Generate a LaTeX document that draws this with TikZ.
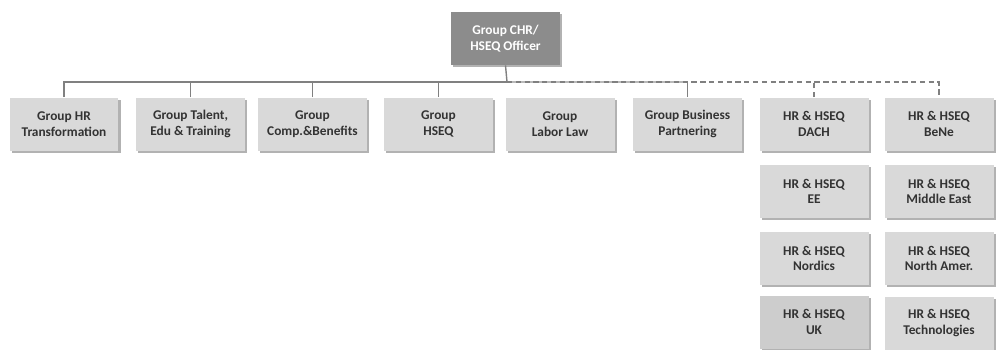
\documentclass[tikz,border=0pt]{standalone}
\usepackage{fontspec}
\setmainfont{Carlito}
\usetikzlibrary{positioning,shadows}

\definecolor{boxgray}{HTML}{D9D9D9}
\definecolor{ukgray}{HTML}{CDCDCD}
\definecolor{topgray}{HTML}{8C8C8C}
\definecolor{txtgray}{HTML}{333333}
\definecolor{linegray}{HTML}{808080}

\tikzset{
  unit/.style={draw=none,fill=boxgray,minimum width=2.18cm,minimum height=1.06cm,
    align=center,inner sep=1pt,text=txtgray,font=\bfseries\fontsize{7.6}{8.8}\selectfont,
    drop shadow={shadow xshift=1.4pt,shadow yshift=-1.4pt,fill=gray!75,opacity=0.8}},
  head/.style={unit,fill=topgray,text=white},
  conn/.style={draw=linegray,line width=0.8pt},
  dotconn/.style={draw=linegray,line width=0.8pt,dash pattern=on 3pt off 2pt}
}

\begin{document}
\begin{tikzpicture}[x=0.02cm,y=-0.02cm]
\useasboundingbox (0,0) rectangle (996,349);

% head of the chart
\node[head] (chr) at (505.5,38.5) {Group CHR/\\HSEQ Officer};
\coordinate (bus) at (507,82);

% first row
\node[unit] (hrt) at (64,124) {Group HR\\Transformation};
\node[unit] (talent) at (190.5,124) {Group Talent,\\Edu \& Training};
\node[unit] (comp) at (312.5,124) {Group\\Comp.\&Benefits};
\node[unit] (hseq) at (438.5,124) {Group\\HSEQ};
\node[unit] (labor) at (560,124) {Group\\Labor Law};
\node[unit] (partner) at (687.5,124) {Group Business\\Partnering};
\node[unit] (dach) at (814,124) {HR \& HSEQ\\DACH};
\node[unit] (bene) at (939,124) {HR \& HSEQ\\BeNe};

% regional columns
\node[unit,below=0.27cm of dach] (ee) {HR \& HSEQ\\EE};
\node[unit,below=0.27cm of ee] (nordics) {HR \& HSEQ\\Nordics};
\node[unit,fill=ukgray,below=0.2cm of nordics] (uk) {HR \& HSEQ\\UK};
\node[unit,below=0.27cm of bene] (mideast) {HR \& HSEQ\\Middle East};
\node[unit,below=0.27cm of mideast] (namer) {HR \& HSEQ\\North Amer.};
\node[unit,below=0.22cm of namer] (tech) {HR \& HSEQ\\Technologies};

% connectors
\draw[conn] (chr.south) -- (bus);
\draw[conn] (hrt.north) |- (bus);
\foreach \n in {talent,comp,hseq}
  \draw[conn] (\n.north) -- (\n.north |- bus);
\draw[conn,draw=gray!55] (bus) -| (partner.north);
\draw[conn] (partner.north) -- (partner.north |- bus);
\draw[dotconn] (bus) -| (bene.north);
\draw[dotconn] (dach.north) -- (dach.north |- bus);
\end{tikzpicture}
\end{document}
